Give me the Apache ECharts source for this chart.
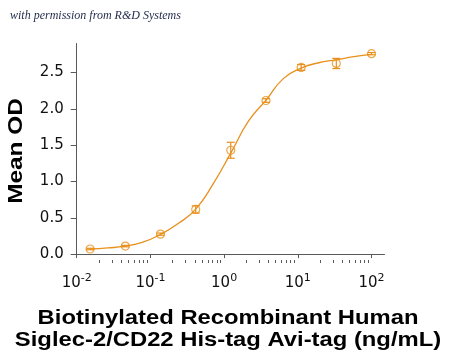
<!DOCTYPE html>
<html>
<head>
<meta charset="utf-8">
<script src="https://cdn.jsdelivr.net/npm/echarts@6/dist/echarts.min.js"></script>
<style>html,body{margin:0;padding:0;background:#fff}#c{width:450px;height:358px}</style>
</head>
<body>
<div id="c"></div>
<script>
// Data
const conc = [0.0152, 0.0457, 0.137, 0.412, 1.23, 3.70, 11.1, 33.3, 100];
const meanOD = [0.07, 0.11, 0.275, 0.615, 1.43, 2.115, 2.57, 2.625, 2.76];
const sdOD = [0.01, 0.01, 0.015, 0.05, 0.11, 0.025, 0.04, 0.07, 0.015];
const fitConc = [0.0152, 0.0264, 0.0457, 0.0792, 0.137, 0.238, 0.412, 0.713, 1.23, 2.14, 3.70, 6.41, 11.1, 19.2, 33.3, 57.7, 100];
const fitOD = [0.07, 0.085, 0.11, 0.165, 0.27, 0.42, 0.62, 0.97, 1.39, 1.83, 2.12, 2.42, 2.56, 2.635, 2.675, 2.72, 2.75];
const xMajorTicks = [0.01, 0.1, 1, 10, 100];
const xMinorTicks = [];
[0.01, 0.1, 1, 10].forEach(d => { for (let k = 2; k <= 9; k++) xMinorTicks.push(+(k * d).toPrecision(3)); });
const yTicks = [0, 0.5, 1.0, 1.5, 2.0, 2.5];

const ORANGE = '#E8901C';
const AXIS = '#5a5a5a';
const LABEL_FONT = 'DejaVu Sans, Liberation Sans, sans-serif';

const chart = echarts.init(document.getElementById('c'), null, {renderer: 'canvas'});
chart.setOption({
  animation: false,
  backgroundColor: '#fff',
  grid: {left: 76.7, width: 307.8, top: 43.5, bottom: 101},
  xAxis: [{
    type: 'log', logBase: 10, min: 0.01, max: 150,
    offset: 3,
    axisLine: {lineStyle: {color: AXIS, width: 1}},
    axisTick: {show: true, length: 4, customValues: xMajorTicks, lineStyle: {color: AXIS}},
    axisLabel: {
      customValues: xMajorTicks, margin: 13, color: '#111',
      fontFamily: LABEL_FONT,
      formatter: v => '{b|10}{s|' + Math.round(Math.log10(v)) + '}',
      rich: {
        b: {fontSize: 15, lineHeight: 18, verticalAlign: 'bottom', fontFamily: LABEL_FONT, color: '#111'},
        s: {fontSize: 11, lineHeight: 18, verticalAlign: 'top', fontFamily: LABEL_FONT, color: '#111', padding: [0, 0, 5, 0]}
      }
    },
    splitLine: {show: false}
  }, {
    type: 'log', logBase: 10, min: 0.01, max: 150,
    position: 'bottom', offset: 3,
    axisLine: {show: false},
    axisTick: {show: true, length: 3, customValues: xMinorTicks, lineStyle: {color: AXIS}},
    axisLabel: {show: false},
    splitLine: {show: false}
  }],
  yAxis: {
    type: 'value', min: -0.04, max: 2.9,
    axisLine: {show: true, lineStyle: {color: AXIS, width: 1}},
    axisTick: {show: true, length: 6, customValues: yTicks, lineStyle: {color: AXIS}},
    axisLabel: {
      customValues: yTicks, margin: 13, fontSize: 15, color: '#111',
      fontFamily: LABEL_FONT,
      formatter: v => v.toFixed(1)
    },
    splitLine: {show: false}
  },
  series: [{
    type: 'line', name: 'fit', smooth: true, showSymbol: false, symbol: 'none',
    data: fitConc.map((c, i) => [c, fitOD[i]]),
    lineStyle: {color: ORANGE, width: 1.3}, z: 2
  }, {
    type: 'custom', name: 'err',
    data: conc.map((c, i) => [c, meanOD[i] - sdOD[i], meanOD[i] + sdOD[i]]),
    encode: {x: 0, y: [1, 2]},
    renderItem: (params, api) => {
      const x = api.value(0);
      const top = api.coord([x, api.value(2)]);
      const bot = api.coord([x, api.value(1)]);
      const w = 4;
      const st = {stroke: ORANGE, lineWidth: 1.2, fill: 'none'};
      return {type: 'group', children: [
        {type: 'line', shape: {x1: top[0], y1: top[1], x2: bot[0], y2: bot[1]}, style: st},
        {type: 'line', shape: {x1: top[0] - w, y1: top[1], x2: top[0] + w, y2: top[1]}, style: st},
        {type: 'line', shape: {x1: bot[0] - w, y1: bot[1], x2: bot[0] + w, y2: bot[1]}, style: st}
      ]};
    }, z: 3
  }, {
    type: 'scatter', name: 'mean',
    data: conc.map((c, i) => [c, meanOD[i]]),
    symbol: 'circle', symbolSize: 8,
    itemStyle: {color: 'rgba(255,255,255,0)', borderColor: ORANGE, borderWidth: 1.2}, z: 4
  }],
  graphic: [{
    type: 'text', left: 10, top: 10,
    style: {text: 'with permission from R&D Systems', fontFamily: 'Liberation Serif', fontStyle: 'italic', fontSize: 12, fill: '#1f2a48'}
  }, {
    type: 'text', x: 16.5, y: 151, rotation: Math.PI / 2, scaleX: 1.22, scaleY: 1,
    style: {text: 'Mean OD', fontFamily: 'Liberation Sans, Arial', fontWeight: 'bold', fontSize: 20, fill: '#000', align: 'center', verticalAlign: 'middle'}
  }, {
    type: 'text', x: 228, y: 329, scaleX: 1.19, scaleY: 1,
    style: {text: 'Biotinylated Recombinant Human\nSiglec-2/CD22 His-tag Avi-tag (ng/mL)', fontFamily: 'Liberation Sans, Arial', fontWeight: 'bold', fontSize: 20, lineHeight: 22, fill: '#000', align: 'center', verticalAlign: 'middle'}
  }]
});
</script>
</body>
</html>
